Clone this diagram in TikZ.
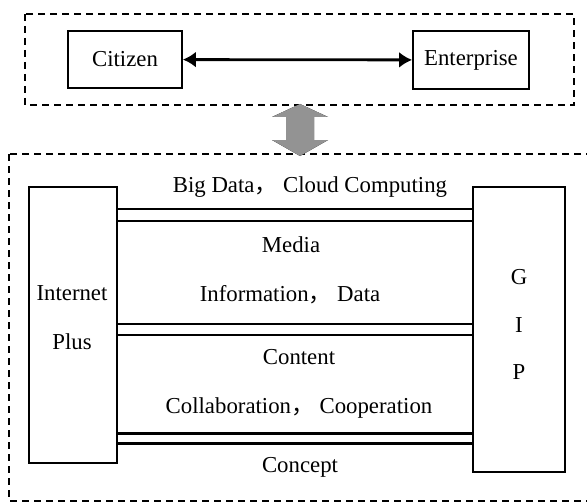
\documentclass[tikz,border=0pt]{standalone}
\usepackage{fontspec}
\setmainfont{Liberation Serif}
\newfontfamily\cjk{Noto Sans CJK SC}
\usetikzlibrary{arrows.meta}
\def\fwc{{\cjk ，}}

\begin{document}
\begin{tikzpicture}[x=1pt,y=-1pt,
		every node/.style={font=\fontsize{22.8}{26}\selectfont},
		frame/.style={draw,line width=1.9pt,dash pattern=on 7pt off 5pt},
		unit/.style={draw,line width=1.8pt,inner sep=0pt},
		lbl/.style={anchor=base,inner sep=0pt},
		pipe/.style={double,line width=2.6pt,double distance=#1},
		pipe/.default=9pt]
				\useasboundingbox (0,0) rectangle (587,503);
				
				\draw[frame] (25,14) rectangle (574,105);
				\draw[frame] (9,154) rectangle (596,501);
				
				\node[unit,minimum width=114pt,minimum height=57pt] (citizen) at (125,59.5) {Citizen};
				\node[unit,minimum width=116pt,minimum height=58pt] (enterprise) at (471,60) {Enterprise};
				\draw[line width=2.8pt,{Latex[length=13pt,width=16pt]}-{Latex[length=13pt,width=16pt]}] (citizen) -- (enterprise);
				
				\fill[left color=gray!85,middle color=gray!40,right color=gray!85]
					(272,117) -- (300,104) -- (328,117) -- (314,117) -- (314,140) -- (328,140)
					-- (300,156) -- (272,140) -- (286,140) -- (286,117) -- cycle;
				
				\node[unit,minimum width=88pt,minimum height=276pt] (ip) at (73,325) {};
				\node[unit,minimum width=92pt,minimum height=285pt] (gip) at (519,329.5) {};
				
				\coordinate (row1) at (0,215);
				\coordinate (row2) at (0,329.5);
				\coordinate (row3) at (0,438.5);
				\draw[pipe=9.5pt] (ip.east |- row1) -- (gip.west |- row1);
				\draw[pipe=8.5pt] (ip.east |- row2) -- (gip.west |- row2);
				\draw[pipe=7pt] (ip.east |- row3) -- (gip.west |- row3);
				
				\node[lbl] (internet) at (72,300.5) {Internet};
				\node[lbl] (plus) at (72,349.5) {Plus};
				\node[lbl] (g) at (519,284.5) {G};
				\node[lbl] (i) at (519,332.5) {I};
				\node[lbl] (p) at (519,379.5) {P};
				
				\node[lbl] (bigdata) at (310,192.5) {Big Data\fwc{} Cloud Computing};
				\node[lbl] (media) at (291,252.5) {Media};
				\node[lbl] (info) at (290,301.5) {Information\fwc{} Data};
				\node[lbl] (content) at (299,364.5) {Content};
				\node[lbl] (collab) at (299,413.5) {Collaboration\fwc{} Cooperation};
				\node[lbl] (concept) at (300,472.5) {Concept};
\end{tikzpicture}
\end{document}
